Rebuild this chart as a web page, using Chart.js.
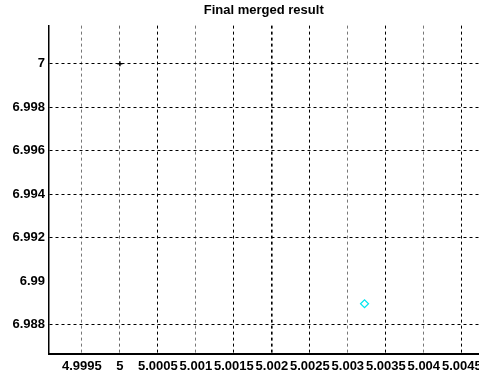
<!DOCTYPE html>
<html><head><meta charset="utf-8">
<script src="https://cdn.jsdelivr.net/npm/chart.js@4/dist/chart.umd.min.js"></script>
<style>html,body{margin:0;padding:0;background:#fff;overflow:hidden;}#wrap{width:479px;height:372px;overflow:hidden;}</style>
</head><body><div id="wrap"><canvas id="c" width="487" height="372"></canvas></div>
<script>
const titleText = "Final merged result";
const xTicks = [4.9995, 5, 5.0005, 5.001, 5.0015, 5.002, 5.0025, 5.003, 5.0035, 5.004, 5.0045];
const yTicks = [6.988, 6.99, 6.992, 6.994, 6.996, 6.998, 7];
const seriesA = [{x: 5, y: 7}];
const seriesB = [{x: 5.00322, y: 6.98897}];
const xGridColors = ['#777','#666','#000','#777','#000','#000','#000','#777','#000','#777','#000'];

const F = {family: "'Liberation Sans', Arial, sans-serif", size: 13, weight: 'bold'};
new Chart(document.getElementById('c'), {
  type: 'scatter',
  data: {datasets: [
    {data: seriesA, pointStyle: 'cross', radius: 2.5, borderColor: '#000', borderWidth: 1.5},
    {data: seriesB, pointStyle: 'rectRot', radius: 4, borderColor: '#00e5f0', backgroundColor: 'rgba(0,0,0,0)', borderWidth: 1.2}
  ]},
  options: {
    responsive: false, animation: false, devicePixelRatio: 1,
    layout: {padding: {left: 0, right: 0, top: 0, bottom: 0}},
    plugins: {
      legend: {display: false}, tooltip: {enabled: false},
      title: {display: true, text: titleText, fullSize: false, color: '#000', font: F, padding: {top: 3, bottom: 7}}
    },
    scales: {
      x: {
        type: 'linear', min: 4.999067, max: 5.00472,
        afterBuildTicks: a => { a.ticks = xTicks.map(v => ({value: v})); },
        afterFit: a => { a.height = 18; },
        ticks: {color: '#000', font: F, padding: 5, autoSkip: false, maxRotation: 0, callback: v => String(v)},
        grid: {drawTicks: false, color: c => c.index !== undefined ? xGridColors[c.index] : '#000',
               lineWidth: c => (xTicks[c.index] === 5.002 ? 1.6 : 1)},
        border: {display: true, color: '#000', width: 2, dash: [3, 3]}
      },
      y: {
        type: 'linear', min: 6.98666, max: 7.00175,
        afterBuildTicks: a => { a.ticks = yTicks.map(v => ({value: v})); },
        afterFit: a => { a.width = 49; },
        ticks: {color: '#000', font: F, padding: 4, callback: v => String(v)},
        grid: {drawTicks: false, color: c => (c.tick && c.tick.value === 6.99) ? 'rgba(0,0,0,0)' : '#000'},
        border: {display: true, color: '#000', width: 1.5, dash: [3, 3]}
      }
    }
  }
});
</script></body></html>
